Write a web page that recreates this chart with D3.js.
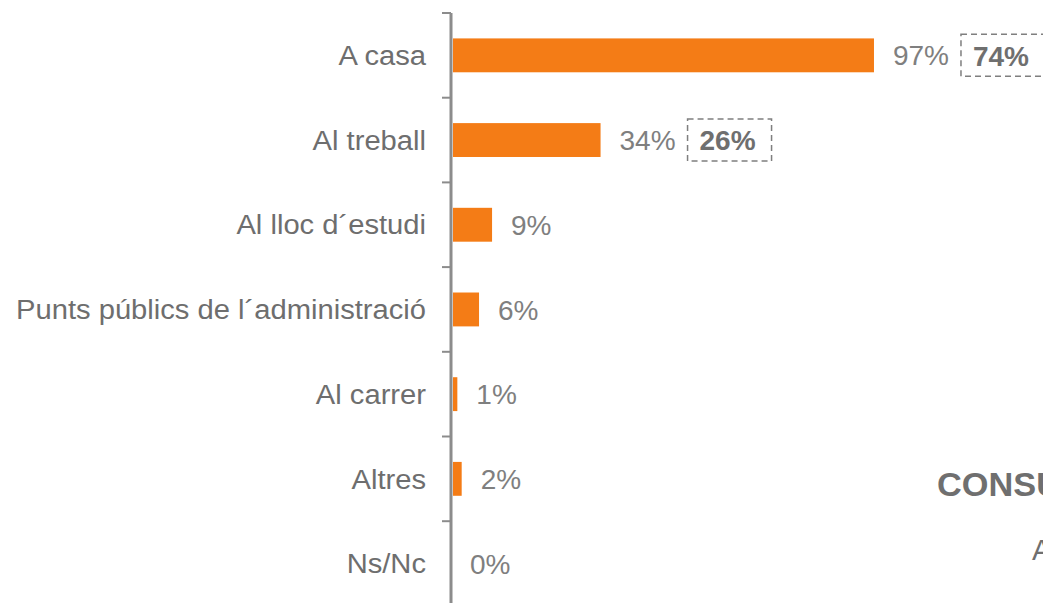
<!DOCTYPE html>
<html>
<head>
<meta charset="utf-8">
<script src="https://cdn.jsdelivr.net/npm/d3@7"></script>
<style>
  body { margin: 0; background: #fff; overflow: hidden; }
  text { font-family: "Liberation Sans", Arial, sans-serif; }
</style>
</head>
<body>
<div id="chart"></div>
<script>
const categories = ["A casa", "Al treball", "Al lloc d´estudi", "Punts públics de l´administració", "Al carrer", "Altres", "Ns/Nc"];
const values = [97, 34, 9, 6, 1, 2, 0];
const boxedValues = [74, 26, null, null, null, null, null];

const width = 1043, height = 603;
const axisX = 451;
const barColor = "#f47c16";
const grey = "#7f7f7f";
const stretch = 1.08; // the reference text is slightly wide

const svg = d3.select("#chart").append("svg")
    .attr("width", width)
    .attr("height", height);

// band scale: each category gets ~84.7px, top at y=13
const yScale = d3.scaleBand()
    .domain(categories)
    .range([13, 13 + 84.7 * categories.length])
    .paddingInner(0.6)
    .paddingOuter(0.3);

const xScale = d3.scaleLinear().domain([0, 100]).range([axisX + 2, axisX + 2 + 434]);

// axis line + ticks at band boundaries
const step = yScale.step();
const boundaries = d3.range(categories.length + 1).map(i => 13 + i * step);

svg.append("line")
    .attr("x1", axisX).attr("x2", axisX)
    .attr("y1", 13).attr("y2", height)
    .attr("stroke", "#8c8c8c").attr("stroke-width", 3);

svg.selectAll(".tick")
    .data(boundaries)
    .join("line")
    .attr("class", "tick")
    .attr("x1", axisX - 9).attr("x2", axisX)
    .attr("y1", d => d).attr("y2", d => d)
    .attr("stroke", "#8c8c8c").attr("stroke-width", 2);

// category labels
svg.selectAll(".catLabel")
    .data(categories)
    .join("text")
    .attr("class", "catLabel")
    .attr("transform", d => "translate(426," + (yScale(d) + yScale.bandwidth() / 2) + ") scale(" + stretch + ",1)")
    .attr("dy", "0.36em")
    .attr("text-anchor", "end")
    .attr("font-size", 27)
    .attr("fill", "#6e6e6e")
    .text(d => d);

// bars
svg.selectAll(".bar")
    .data(values)
    .join("rect")
    .attr("class", "bar")
    .attr("x", xScale(0))
    .attr("y", (d, i) => yScale(categories[i]))
    .attr("width", d => xScale(d) - xScale(0))
    .attr("height", yScale.bandwidth())
    .attr("fill", barColor);

// value labels
svg.selectAll(".valLabel")
    .data(values)
    .join("text")
    .attr("class", "valLabel")
    .attr("x", d => xScale(d) + (d === 0 ? 17 : 19))
    .attr("y", (d, i) => yScale(categories[i]) + yScale.bandwidth() / 2)
    .attr("dy", "0.36em")
    .attr("font-size", 28)
    .attr("fill", grey)
    .text(d => d + "%");

// dashed boxes
boxedValues.forEach((b, i) => {
    if (b === null) return;
    const cy = yScale(categories[i]) + yScale.bandwidth() / 2;
    const x0 = xScale(values[i]) + 87;
    svg.append("rect")
        .attr("x", x0).attr("y", cy - 21)
        .attr("width", 84).attr("height", 42)
        .attr("fill", "none")
        .attr("stroke", grey).attr("stroke-width", 1.5)
        .attr("stroke-dasharray", "6,4");
    svg.append("text")
        .attr("x", x0 + 12).attr("y", cy)
        .attr("dy", "0.37em")
        .attr("font-size", 28)
        .attr("font-weight", "bold")
        .attr("fill", "#6f6f6f")
        .text(b + "%");
});

// side caption, cut by the right edge as in the reference
svg.append("text")
    .attr("transform", "translate(937,496) scale(1.04,1)")
    .attr("font-size", 33)
    .attr("font-weight", "bold")
    .attr("fill", "#6f6f6f")
    .text("CONSULTA");

svg.append("text")
    .attr("x", 1032).attr("y", 560)
    .attr("font-size", 29)
    .attr("fill", "#6f6f6f")
    .text("A");
</script>
</body>
</html>
